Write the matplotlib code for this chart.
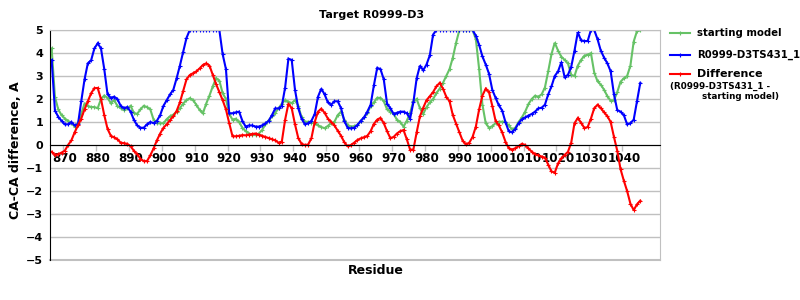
import numpy as np
import matplotlib
matplotlib.use("Agg")
import matplotlib.pyplot as plt
from matplotlib.lines import Line2D

plt.rcParams['font.family'] = ['DejaVu Sans']

# residue numbers (one point per residue)
residues = np.arange(866, 1046)

starting_model = [
    4.2, 2.1, 1.55, 1.3, 1.15, 1.05, 0.95, 0.8, 0.95, 1.35,
    1.8, 1.7, 1.65, 1.65, 1.6, 2.0, 2.15, 2.05, 1.82, 1.95,
    1.7, 1.6, 1.52, 1.6, 1.7, 1.4, 1.35, 1.55, 1.7, 1.65,
    1.55, 1.1, 0.95, 0.94, 0.95, 1.12, 1.25, 1.32, 1.45, 1.6,
    1.8, 1.95, 2.03, 1.95, 1.75, 1.52, 1.38, 1.8, 2.15, 2.55,
    2.9, 2.8, 2.25, 2.0, 1.35, 1.1, 1.14, 1.0, 0.75, 0.6,
    0.5, 0.45, 0.43, 0.5, 0.65, 0.9, 1.07, 1.25, 1.4, 1.6,
    1.8, 1.95, 1.88, 1.82, 1.95, 1.7, 1.2, 1.01, 1.01, 0.97,
    0.95, 0.85, 0.78, 0.73, 0.83, 0.95, 1.01, 1.3, 1.45, 1.1,
    0.87, 0.8, 0.82, 0.87, 1.05, 1.2, 1.38, 1.7, 1.85, 2.05,
    2.05, 1.9, 1.55, 1.45, 1.35, 1.1, 1.0, 0.8, 1.05, 1.4,
    1.9, 2.0, 1.6, 1.35, 1.65, 1.85, 2.0, 2.25, 2.45, 2.7,
    3.0, 3.3, 3.8, 4.45, 5.0, 5.0, 5.0, 5.0, 5.0, 4.6,
    3.3, 1.75, 0.95, 0.75, 0.82, 0.95, 1.01, 1.01, 1.01, 0.85,
    0.68, 0.75, 1.0, 1.2, 1.45, 1.78, 2.0, 2.14, 2.1, 2.2,
    2.5, 3.2, 3.95, 4.45, 4.1, 3.84, 3.7, 3.55, 3.05, 3.0,
    3.45, 3.7, 3.88, 3.93, 3.99, 3.15, 2.77, 2.62, 2.4, 2.12,
    1.92, 1.95, 2.3, 2.75, 2.9, 3.0, 3.45, 4.5, 4.95, 5.0,
]

model_431 = [
    3.7, 1.5, 1.23, 1.05, 0.9, 0.9, 1.0, 0.85, 0.9, 1.9,
    2.85, 3.55, 3.68, 4.2, 4.42, 4.2, 3.3, 2.2, 2.05, 2.1,
    2.0, 1.7, 1.6, 1.65, 1.45, 1.1, 0.85, 0.75, 0.75, 0.9,
    1.0, 0.95, 1.05, 1.3, 1.7, 1.95, 2.2, 2.4, 2.9, 3.45,
    4.05, 4.65, 5.0, 5.0, 5.0, 5.0, 5.0, 5.0, 5.0, 5.0,
    5.0, 5.0, 3.95, 3.3, 1.38, 1.38, 1.42, 1.45, 1.05, 0.8,
    0.85, 0.85, 0.8, 0.8, 0.85, 0.94, 1.05, 1.3, 1.59, 1.59,
    1.7, 2.5, 3.75, 3.7, 2.4, 1.6, 1.15, 0.9, 0.95, 1.05,
    1.35, 2.1, 2.45, 2.2, 1.85, 1.75, 1.9, 1.9, 1.6, 1.05,
    0.75, 0.72, 0.75, 0.87, 1.05, 1.2, 1.45, 1.75, 2.6, 3.35,
    3.3, 2.85, 1.8, 1.6, 1.35, 1.4, 1.45, 1.45, 1.38, 1.15,
    1.85, 2.9, 3.45, 3.25, 3.5, 3.9, 4.8, 5.0, 5.0, 5.0,
    5.0, 5.0, 5.0, 5.0, 5.0, 5.0, 5.0, 5.0, 5.0, 4.75,
    4.35, 3.85, 3.5, 3.1, 2.4, 2.05, 1.72, 1.5, 1.0, 0.6,
    0.55, 0.7, 0.95, 1.12, 1.2, 1.28, 1.35, 1.45, 1.59, 1.62,
    1.75, 2.2, 2.55, 3.0, 3.2, 3.6, 2.95, 3.05, 3.4, 4.1,
    4.9, 4.55, 4.52, 4.52, 5.0, 5.0, 4.6, 4.1, 3.8, 3.55,
    3.2, 2.2, 1.52, 1.45, 1.3, 0.9, 0.95, 1.1, 1.9, 2.7,
]

difference = [
    -0.3, -0.43, -0.4, -0.33, -0.25, 0.0, 0.2, 0.55, 0.85, 1.15,
    1.55, 1.9, 2.25, 2.47, 2.48, 2.0, 1.3, 0.7, 0.4, 0.33,
    0.25, 0.1, 0.08, 0.05, -0.05, -0.25, -0.4, -0.6, -0.7, -0.7,
    -0.45, -0.15, 0.2, 0.5, 0.75, 0.9, 1.08, 1.25, 1.48, 1.85,
    2.35, 2.85, 3.04, 3.12, 3.2, 3.33, 3.48, 3.55, 3.45, 3.05,
    2.65, 2.3, 1.95, 1.55, 0.95, 0.38, 0.38, 0.4, 0.43, 0.42,
    0.45, 0.48, 0.5, 0.45, 0.4, 0.35, 0.3, 0.25, 0.2, 0.1,
    0.15, 1.1, 1.8, 1.6, 0.9, 0.3, 0.05, 0.0, 0.02, 0.3,
    1.0, 1.45, 1.58, 1.4, 1.15, 1.0, 0.85, 0.62, 0.4, 0.12,
    -0.05, 0.0, 0.1, 0.22, 0.29, 0.34, 0.4, 0.6, 0.92, 1.1,
    1.18, 0.95, 0.6, 0.3, 0.35, 0.5, 0.6, 0.65, 0.25, -0.2,
    -0.2, 0.55, 1.25, 1.62, 1.95, 2.12, 2.3, 2.55, 2.7, 2.45,
    2.1, 1.9, 1.3, 0.92, 0.55, 0.18, 0.03, 0.1, 0.35, 0.8,
    1.55, 2.15, 2.45, 2.3, 1.7, 1.05, 0.85, 0.55, 0.15, -0.14,
    -0.2, -0.14, -0.05, 0.05, 0.0, -0.15, -0.29, -0.4, -0.45, -0.5,
    -0.55, -0.85, -1.15, -1.2, -0.8, -0.58, -0.43, -0.3, 0.1, 0.95,
    1.17, 0.97, 0.74, 0.78, 1.15, 1.6, 1.75, 1.6, 1.42, 1.25,
    1.0, 0.35, -0.25, -1.05, -1.55, -2.0, -2.55, -2.83, -2.58, -2.42,
]

tick_labels = list(range(870, 1041, 10))
y_ticks = list(range(-5, 6))

green, blue, red = '#66c266', '#0000ff', '#ff0000'
grey = '#c0c0c0'

fig = plt.figure(figsize=(8, 3), dpi=100)
ax = fig.add_axes([50/800, 1 - 260/300, 610/800, 230/300])

style = dict(lw=1.5, marker='+', ms=3, mew=0.8, solid_joinstyle='miter')
ax.plot(residues, starting_model, color=green, **style)
ax.plot(residues, model_431, color=blue, **style)
ax.plot(residues, difference, color=red, **style)

ax.set_xlim(865.5, 1051)
ax.set_ylim(-5, 5)

# horizontal grid
ax.set_yticks(y_ticks)
ax.set_yticklabels([str(v).replace('-', '\u2212') for v in y_ticks],
                   fontsize=8, fontweight='bold')
ax.tick_params(axis='y', length=0, pad=5)
ax.yaxis.grid(True, color=grey, lw=1)
ax.set_axisbelow(True)

# category style x axis crossing at zero
ax.spines['bottom'].set_position(('data', 0))
ax.spines['bottom'].set_color('black')
ax.spines['left'].set_color('black')
ax.spines['right'].set_color(grey)
ax.spines['top'].set_color(grey)
ax.set_xticks(tick_labels)
ax.set_xticklabels([str(t) for t in tick_labels], fontsize=8.6, fontweight='bold')
ax.set_xticks([t - 0.5 for t in tick_labels], minor=True)
ax.tick_params(axis='x', which='major', length=0, pad=5)
ax.tick_params(axis='x', which='minor', length=4, color=grey, width=1)
ax.axhline(-5, color=grey, lw=1.5, clip_on=False)

fig.text(372/800, 1 - 15/300, 'Target R0999-D3', ha='center', va='center',
         fontsize=8, fontweight='bold')
fig.text(376/800, 1 - 270/300, 'Residue', ha='center', va='center',
         fontsize=9, fontweight='bold')
fig.text(16/800, 1 - 150/300, 'CA-CA difference, A', ha='center', va='center',
         rotation=90, fontsize=9, fontweight='bold')

# legend drawn by hand
for yy, col, txt, fs in [(33, green, 'starting model', 7.3),
                         (55, blue, 'R0999-D3TS431_1', 7.3),
                         (74, red, 'Difference', 8)]:
    fy = 1 - yy/300
    fig.add_artist(Line2D([670/800, 690/800], [fy, fy], color=col, lw=1.5,
                          transform=fig.transFigure))
    fig.add_artist(Line2D([680/800], [fy], color=col, marker='+', ms=3,
                          mew=0.8, transform=fig.transFigure))
    fig.text(697/800, fy, txt, ha='left', va='center', fontsize=fs,
             fontweight='bold')
fig.text(670/800, 1 - 86/300, '(R0999-D3TS431_1 -', ha='left', va='center',
         fontsize=6.3, fontweight='bold')
fig.text(702/800, 1 - 97/300, 'starting model)', ha='left', va='center',
         fontsize=6.3, fontweight='bold')

fig.savefig('out.png', dpi=100)
